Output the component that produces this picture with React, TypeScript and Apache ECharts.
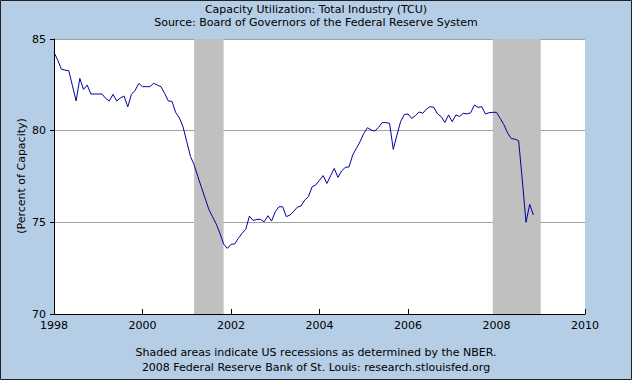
import React, { useEffect, useRef } from "react";
import * as echarts from "echarts";

// Capacity Utilization: Total Industry (TCU), monthly, percent of capacity
const START_YEAR = 1998;
const tcu1998 = [84.27, 83.85, 83.35, 83.3, 83.28, 82.45, 81.62, 82.85, 82.25, 82.49, 82.0, 82.0];
const tcu1999 = [82.0, 82.0, 81.76, 81.62, 81.98, 81.62, 81.78, 81.89, 81.3, 81.98, 82.2, 82.58];
const tcu2000 = [82.4, 82.4, 82.4, 82.58, 82.49, 82.4, 82.03, 81.62, 81.6, 80.99, 80.7, 80.2];
const tcu2001 = [79.4, 78.6, 78.14, 77.5, 76.9, 76.3, 75.7, 75.3, 74.9, 74.4, 73.82, 73.58];
const tcu2002 = [73.8, 73.82, 74.13, 74.4, 74.62, 75.34, 75.1, 75.16, 75.16, 75.03, 75.36, 75.07];
const tcu2003 = [75.58, 75.85, 75.85, 75.31, 75.4, 75.6, 75.83, 75.89, 76.22, 76.4, 76.94, 77.04];
const tcu2004 = [77.3, 77.55, 77.12, 77.54, 77.94, 77.45, 77.8, 78.0, 78.02, 78.67, 79.04, 79.4];
const tcu2005 = [79.85, 80.16, 80.04, 79.98, 80.18, 80.44, 80.44, 80.4, 78.98, 79.76, 80.5, 80.88];
const tcu2006 = [80.91, 80.67, 80.82, 81.02, 80.95, 81.18, 81.31, 81.27, 80.91, 80.77, 80.45, 80.86];
const tcu2007 = [80.49, 80.86, 80.77, 80.95, 80.91, 80.98, 81.4, 81.27, 81.31, 80.91, 80.98, 81.0];
const tcu2008 = [81.0, 80.67, 80.33, 79.88, 79.57, 79.54, 79.45, 77.3, 75.0, 75.98, 75.4];
const yearly = [tcu1998, tcu1999, tcu2000, tcu2001, tcu2002, tcu2003, tcu2004, tcu2005, tcu2006, tcu2007, tcu2008];

// NBER recessions [start year, start month, end year, end month]
const recessions = [
  [2001, 3, 2001, 11],
  [2007, 12, 2009, 1],
];

const xMin = 1998;
const xMax = 2010;
const xStep = 2;
const yMin = 70;
const yMax = 85;
const yStep = 5;

const titleText = "Capacity Utilization: Total Industry (TCU)";
const subtitleText = "Source: Board of Governors of the Federal Reserve System";
const footer1 = "Shaded areas indicate US recessions as determined by the NBER.";
const footer2 = "2008 Federal Reserve Bank of St. Louis: research.stlouisfed.org";
const yName = "(Percent of Capacity)";

const FONT = "DejaVu Sans";

export default function App() {
  const ref = useRef<HTMLDivElement>(null);
  useEffect(() => {
    document.body.style.margin = "0";
    if (!ref.current) return;
    const chart = echarts.init(ref.current, undefined, { renderer: "svg" });
    const data: number[][] = [];
    yearly.forEach((arr, i) => {
      arr.forEach((v, j) => {
        data.push([START_YEAR + i + j / 12, v]);
      });
    });
    const areas = recessions.map((r) => [
      { xAxis: r[0] + (r[1] - 1) / 12 },
      { xAxis: r[2] + (r[3] - 1) / 12 },
    ]);
    const txt = { fontSize: 11, fontWeight: "normal" as const, color: "#000", fontFamily: FONT };
    chart.setOption({
      animation: false,
      backgroundColor: "#B5CDE5",
      textStyle: { fontFamily: FONT },
      title: [
        { text: titleText, left: "center", top: 4, padding: 0, textStyle: txt },
        { text: subtitleText, left: "center", top: 17, padding: 0, textStyle: txt },
        { text: footer1, left: "center", top: 347, padding: 0, textStyle: txt },
        { text: footer2, left: "center", top: 362, padding: 0, textStyle: txt },
      ],
      grid: {
        left: 54,
        right: 47,
        top: 39,
        bottom: 66,
        show: true,
        backgroundColor: "#FFFFFF",
        borderWidth: 0,
      },
      xAxis: {
        type: "value",
        min: xMin,
        max: xMax,
        interval: xStep,
        axisLine: { show: true, lineStyle: { color: "#000", width: 1 } },
        axisTick: { show: true, inside: true, length: 5, lineStyle: { color: "#000" } },
        axisLabel: { color: "#000", fontSize: 11, fontFamily: FONT, margin: 6, formatter: (v: number) => String(v) },
        splitLine: { show: false },
      },
      yAxis: {
        type: "value",
        min: yMin,
        max: yMax,
        interval: yStep,
        axisLine: { show: true, lineStyle: { color: "#000", width: 1 } },
        axisTick: { show: true, length: 4, lineStyle: { color: "#000" } },
        axisLabel: { color: "#000", fontSize: 11, fontFamily: FONT, margin: 8 },
        splitLine: { show: true, lineStyle: { color: "#A0A0A0", width: 1 } },
      },
      series: [
        {
          type: "line",
          data: [],
          z: 1,
          silent: true,
          markArea: {
            silent: true,
            itemStyle: { color: "#C0C0C0", opacity: 1 },
            data: areas,
          },
        },
        {
          type: "line",
          data,
          z: 3,
          symbol: "none",
          showSymbol: false,
          lineStyle: { color: "#00009C", width: 1 },
        },
      ],
      graphic: [
        {
          type: "text",
          x: 21,
          y: 176,
          rotation: Math.PI / 2,
          style: {
            text: yName,
            fill: "#000",
            font: `11px "${FONT}"`,
            align: "center",
            verticalAlign: "middle",
          },
        },
        {
          type: "rect",
          shape: { x: 0.5, y: 0.5, width: 631, height: 379 },
          style: { fill: "none", stroke: "#222222", lineWidth: 1 },
          z: 100,
        },
      ],
    });
    return () => chart.dispose();
  }, []);
  return <div ref={ref} style={{ width: 632, height: 380 }} />;
}
